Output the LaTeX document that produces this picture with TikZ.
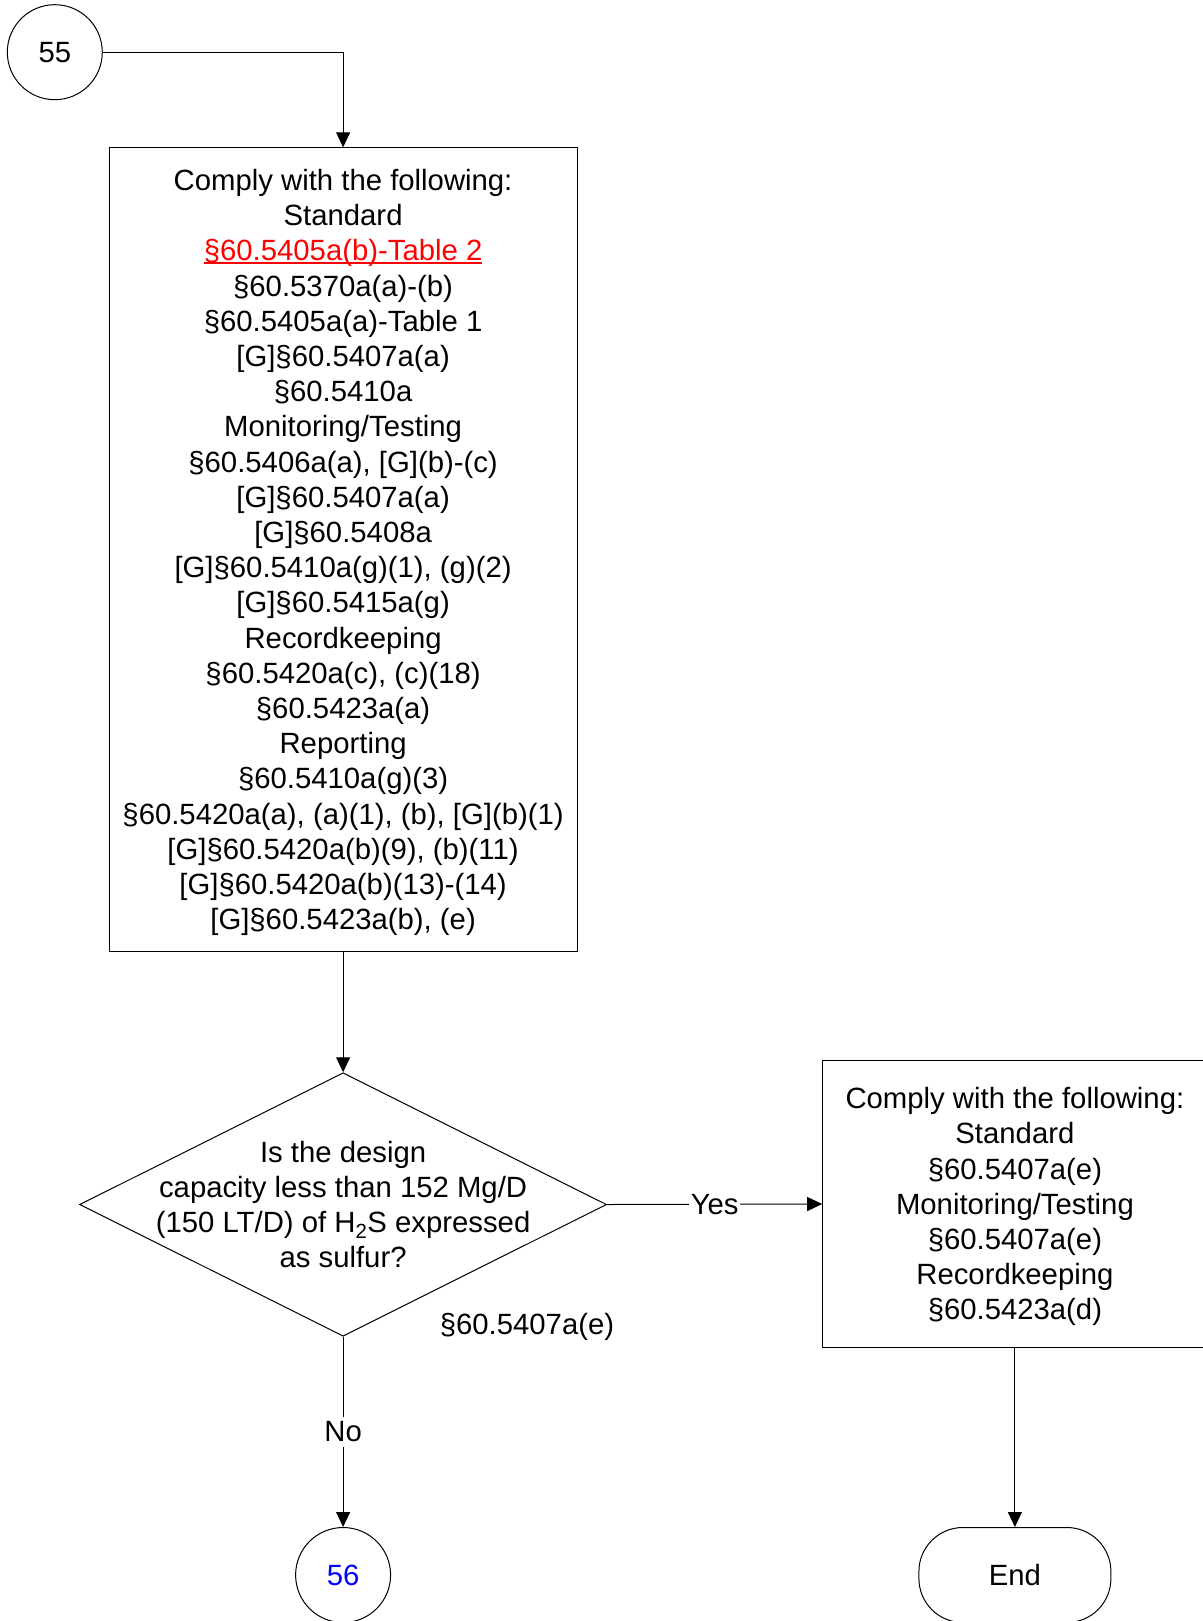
\documentclass[tikz,border=0pt]{standalone}
\usepackage{fontspec}
\setmainfont{Liberation Sans}
\usetikzlibrary{arrows.meta,shapes.geometric}
\definecolor{refred}{RGB}{255,0,0}
\definecolor{refblue}{RGB}{0,0,255}
\newcommand\myul[1]{\setbox0\hbox{#1}\rlap{\rule[-3.2pt]{\wd0}{1.6pt}}\box0}
\begin{document}
\begin{tikzpicture}[x=1pt,y=-1pt,
  every node/.style={font=\fontsize{29.3}{35.2}\selectfont},
  ln/.style={line width=1pt},
  arr/.style={ln,-{Triangle[length=15pt,width=14pt]}},
  boxst/.style={draw,ln,inner sep=0pt,rectangle},
  txt/.style={align=center,inner sep=0pt},
  circst/.style={draw,ln,circle,inner sep=0pt,minimum size=95pt},
  lbl/.style={fill=white,inner sep=1.5pt}
]
\useasboundingbox (0,0) rectangle (1202,1621);

\node[circst] (c55) at (54.8,52.2) {55};

\node[boxst,minimum width=468.2pt,minimum height=804.1pt] (box1) at (343.1,549.85) {};
\node[txt] (box1text) at (343.1,552.5) {%
Comply with the following:\\
Standard\\
\textcolor{refred}{\myul{§60.5405a(b)-Table 2}}\\
§60.5370a(a)-(b)\\
§60.5405a(a)-Table 1\\
{[G]}§60.5407a(a)\\
§60.5410a\\
Monitoring/Testing\\
§60.5406a(a), [G](b)-(c)\\
{[G]}§60.5407a(a)\\
{[G]}§60.5408a\\
{[G]}§60.5410a(g)(1), (g)(2)\\
{[G]}§60.5415a(g)\\
Recordkeeping\\
§60.5420a(c), (c)(18)\\
§60.5423a(a)\\
Reporting\\
§60.5410a(g)(3)\\
§60.5420a(a), (a)(1), (b), [G](b)(1)\\
{[G]}§60.5420a(b)(9), (b)(11)\\
{[G]}§60.5420a(b)(13)-(14)\\
{[G]}§60.5423a(b), (e)};

\node[draw,ln,diamond,inner sep=0pt,minimum width=527pt,minimum height=263.5pt] (dia) at (343.1,1204.5) {};
\node[txt] (diatext) at (343.1,1204.5) {Is the design\\capacity less than 152 Mg/D\\(150 LT/D) of H\textsubscript{2}S expressed\\as sulfur?};

\node[inner sep=0pt] (cite) at (527,1327) {§60.5407a(e)};

\node[boxst,minimum width=384.4pt,minimum height=287.3pt] (box2) at (1014.9,1204) {};
\node[txt] (box2text) at (1014.9,1206.8) {%
Comply with the following:\\
Standard\\
§60.5407a(e)\\
Monitoring/Testing\\
§60.5407a(e)\\
Recordkeeping\\
§60.5423a(d)};

\node[circst,text=refblue] (c56) at (343.1,1575) {56};
\node[draw,ln,rectangle,rounded corners=44pt,minimum width=192pt,minimum height=95pt,inner sep=0pt] (endn) at (1014.9,1575) {End};

\draw[arr] (c55.east) -| (box1.north);
\draw[arr] (box1.south) -- (dia.north);
\draw[arr] (dia.east) -- node[lbl] (yes) {Yes} (box2.west);
\draw[arr] (dia.south) -- node[lbl,inner ysep=5pt] (no) {No} (c56.north);
\draw[arr] (box2.south) -- (endn.north);
\end{tikzpicture}
\end{document}
